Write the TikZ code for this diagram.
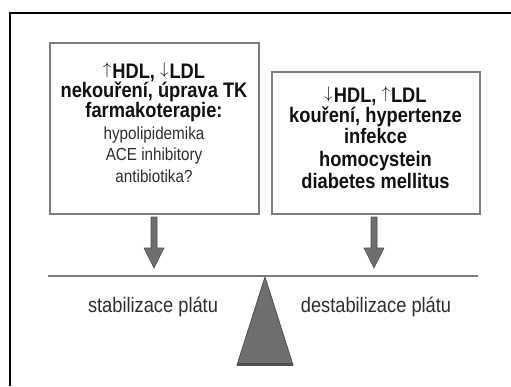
\documentclass[tikz,border=0pt]{standalone}
\usepackage{graphicx}
\usepackage{fontspec}
\setmainfont{Liberation Sans}
\newfontfamily\narrowf[FakeStretch=0.87]{Liberation Sans}
\usetikzlibrary{calc}
\definecolor{boxgray}{HTML}{7E7E7E}
\definecolor{arrowfill}{HTML}{6E6E6E}
\definecolor{arrowline}{HTML}{505050}
\definecolor{txtbold}{HTML}{111111}
\definecolor{txtreg}{HTML}{2E2E2E}
\tikzset{
  infobox/.style={draw=boxgray, line width=1.8pt, fill=white, inner sep=0pt, anchor=north west},
  bl/.style={font=\narrowf\bfseries\fontsize{21}{21}\selectfont, text=txtbold, anchor=base, inner sep=0pt},
  rl/.style={font=\narrowf\fontsize{17.5}{21}\selectfont, text=txtreg, anchor=base, inner sep=0pt},
  fatarrow/.style={fill=arrowfill, draw=arrowline, line width=0.6pt, line join=miter},
  beam/.style={draw=boxgray, line width=1.5pt},
  fulcrum/.style={fill=arrowfill, draw=arrowline, line width=0.8pt},
  plabel/.style={font=\narrowf\fontsize{21}{21}\selectfont, text=txtreg, anchor=base, inner sep=0pt},
  frame/.style={draw=black, line width=1.3pt}
}
\newcommand{\uparr}{\resizebox{!}{15pt}{\raisebox{\depth}{$\uparrow$}}\kern1pt}
\newcommand{\downarr}{\resizebox{!}{15pt}{\raisebox{\depth}{$\downarrow$}}\kern1pt}
\begin{document}
\begin{tikzpicture}[x=1pt,y=-1pt]
\useasboundingbox (0,0) rectangle (511,386);
\fill[white] (0,0) rectangle (511,386);
% frame
\draw[frame] (10,386) -- (10,13) -- (511,13);
% boxes
\node[infobox, minimum width=209pt, minimum height=171pt] (L) at (49,42) {};
\node[infobox, minimum width=208pt, minimum height=142pt] (R) at (271,71) {};
% left box text
\node[bl] (l1) at (154,78)  {\uparr HDL, \downarr LDL};
\node[bl] (l2) at (154,97.5)  {nekouření, úprava TK};
\node[bl] (l3) at (154,117) {farmakoterapie:};
\node[rl] (l4) at (154,139) {hypolipidemika};
\node[rl] (l5) at (154,160.5) {ACE inhibitory};
\node[rl] (l6) at (154,182) {antibiotika?};
% right box text
\node[bl] (r1) at (375.5,102) {\downarr HDL, \uparr LDL};
\node[bl] (r2) at (375.5,122) {kouření, hypertenze};
\node[bl] (r3) at (375.5,143.5) {infekce};
\node[bl] (r4) at (375.5,166) {homocystein};
\node[bl] (r5) at (375.5,188) {diabetes mellitus};
% beam
\coordinate (beamL) at (48,276);
\coordinate (beamR) at (478,276);
\coordinate (apex) at (265,277);
\draw[beam] (beamL) -- (beamR);
% arrows onto the beam
\coordinate (tipL) at (154,268);
\coordinate (tipR) at (374,268);
\foreach \t in {tipL,tipR}{
  \draw[fatarrow] ($(\t)+(-3,-51)$) -- ($(\t)+(3,-51)$) -- ($(\t)+(3,-20)$) -- ($(\t)+(10,-20)$)
    -- (\t) -- ($(\t)+(-10,-20)$) -- ($(\t)+(-3,-20)$) -- cycle;
}
% fulcrum
\draw[fulcrum] (apex) -- ($(apex)+(28,88)$) -- ($(apex)+(-28,88)$) -- cycle;
\fill[arrowline] ($(apex)+(-28,86)$) rectangle ($(apex)+(28,88.5)$);
% labels
\node[plabel] (sl) at (153,312) {stabilizace plátu};
\node[plabel] (dl) at (376,312) {destabilizace plátu};
\end{tikzpicture}
\end{document}
